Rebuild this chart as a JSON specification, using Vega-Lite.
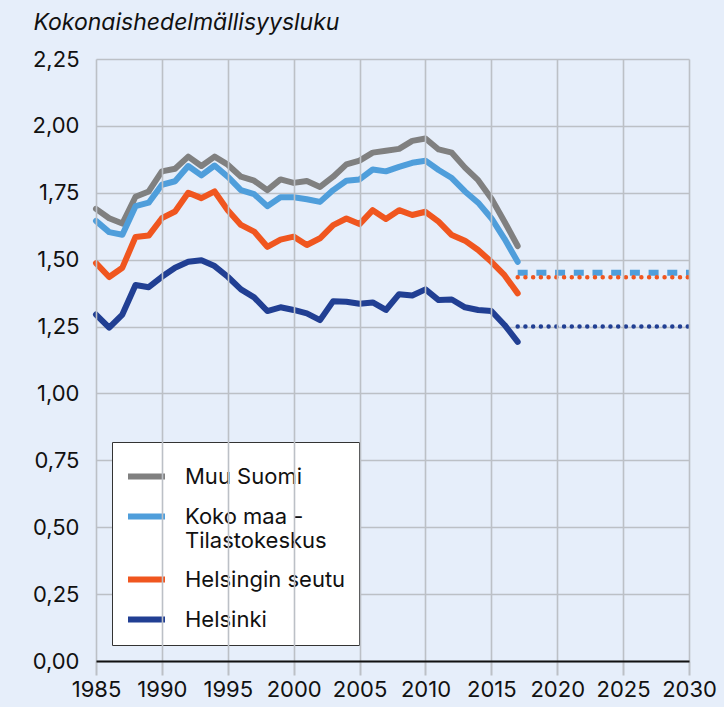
{
  "$schema": "https://vega.github.io/schema/vega-lite/v6.json",
  "width": 593,
  "height": 602,
  "autosize": {"type": "none"},
  "padding": {"left": 96, "top": 59, "right": 35, "bottom": 46},
  "background": "#e6eefa",
  "config": {
    "view": {"stroke": null},
    "font": "Inter",
    "axis": {"labelFont": "Inter", "labelFontSize": 22, "labelColor": "#111111", "gridColor": "#bcc0c6", "gridWidth": 1.6}
  },
  "datasets": {
    "hist": [
      {"series": "Muu Suomi", "year": 1985, "value": 1.69},
      {"series": "Muu Suomi", "year": 1986, "value": 1.655},
      {"series": "Muu Suomi", "year": 1987, "value": 1.635},
      {"series": "Muu Suomi", "year": 1988, "value": 1.735},
      {"series": "Muu Suomi", "year": 1989, "value": 1.755},
      {"series": "Muu Suomi", "year": 1990, "value": 1.83},
      {"series": "Muu Suomi", "year": 1991, "value": 1.84},
      {"series": "Muu Suomi", "year": 1992, "value": 1.885},
      {"series": "Muu Suomi", "year": 1993, "value": 1.85},
      {"series": "Muu Suomi", "year": 1994, "value": 1.885},
      {"series": "Muu Suomi", "year": 1995, "value": 1.855},
      {"series": "Muu Suomi", "year": 1996, "value": 1.81},
      {"series": "Muu Suomi", "year": 1997, "value": 1.795},
      {"series": "Muu Suomi", "year": 1998, "value": 1.76},
      {"series": "Muu Suomi", "year": 1999, "value": 1.8},
      {"series": "Muu Suomi", "year": 2000, "value": 1.787},
      {"series": "Muu Suomi", "year": 2001, "value": 1.794},
      {"series": "Muu Suomi", "year": 2002, "value": 1.772},
      {"series": "Muu Suomi", "year": 2003, "value": 1.81},
      {"series": "Muu Suomi", "year": 2004, "value": 1.856},
      {"series": "Muu Suomi", "year": 2005, "value": 1.87},
      {"series": "Muu Suomi", "year": 2006, "value": 1.9},
      {"series": "Muu Suomi", "year": 2007, "value": 1.907},
      {"series": "Muu Suomi", "year": 2008, "value": 1.914},
      {"series": "Muu Suomi", "year": 2009, "value": 1.944},
      {"series": "Muu Suomi", "year": 2010, "value": 1.953},
      {"series": "Muu Suomi", "year": 2011, "value": 1.912},
      {"series": "Muu Suomi", "year": 2012, "value": 1.9},
      {"series": "Muu Suomi", "year": 2013, "value": 1.844},
      {"series": "Muu Suomi", "year": 2014, "value": 1.797},
      {"series": "Muu Suomi", "year": 2015, "value": 1.729},
      {"series": "Muu Suomi", "year": 2016, "value": 1.642},
      {"series": "Muu Suomi", "year": 2017, "value": 1.551},
      {"series": "Koko maa - Tilastokeskus", "year": 1985, "value": 1.645},
      {"series": "Koko maa - Tilastokeskus", "year": 1986, "value": 1.603},
      {"series": "Koko maa - Tilastokeskus", "year": 1987, "value": 1.593},
      {"series": "Koko maa - Tilastokeskus", "year": 1988, "value": 1.7},
      {"series": "Koko maa - Tilastokeskus", "year": 1989, "value": 1.713},
      {"series": "Koko maa - Tilastokeskus", "year": 1990, "value": 1.78},
      {"series": "Koko maa - Tilastokeskus", "year": 1991, "value": 1.793},
      {"series": "Koko maa - Tilastokeskus", "year": 1992, "value": 1.85},
      {"series": "Koko maa - Tilastokeskus", "year": 1993, "value": 1.815},
      {"series": "Koko maa - Tilastokeskus", "year": 1994, "value": 1.852},
      {"series": "Koko maa - Tilastokeskus", "year": 1995, "value": 1.81},
      {"series": "Koko maa - Tilastokeskus", "year": 1996, "value": 1.76},
      {"series": "Koko maa - Tilastokeskus", "year": 1997, "value": 1.745},
      {"series": "Koko maa - Tilastokeskus", "year": 1998, "value": 1.7},
      {"series": "Koko maa - Tilastokeskus", "year": 1999, "value": 1.733},
      {"series": "Koko maa - Tilastokeskus", "year": 2000, "value": 1.733},
      {"series": "Koko maa - Tilastokeskus", "year": 2001, "value": 1.726},
      {"series": "Koko maa - Tilastokeskus", "year": 2002, "value": 1.716},
      {"series": "Koko maa - Tilastokeskus", "year": 2003, "value": 1.76},
      {"series": "Koko maa - Tilastokeskus", "year": 2004, "value": 1.795},
      {"series": "Koko maa - Tilastokeskus", "year": 2005, "value": 1.8},
      {"series": "Koko maa - Tilastokeskus", "year": 2006, "value": 1.837},
      {"series": "Koko maa - Tilastokeskus", "year": 2007, "value": 1.83},
      {"series": "Koko maa - Tilastokeskus", "year": 2008, "value": 1.847},
      {"series": "Koko maa - Tilastokeskus", "year": 2009, "value": 1.862},
      {"series": "Koko maa - Tilastokeskus", "year": 2010, "value": 1.87},
      {"series": "Koko maa - Tilastokeskus", "year": 2011, "value": 1.835},
      {"series": "Koko maa - Tilastokeskus", "year": 2012, "value": 1.805},
      {"series": "Koko maa - Tilastokeskus", "year": 2013, "value": 1.755},
      {"series": "Koko maa - Tilastokeskus", "year": 2014, "value": 1.713},
      {"series": "Koko maa - Tilastokeskus", "year": 2015, "value": 1.655},
      {"series": "Koko maa - Tilastokeskus", "year": 2016, "value": 1.578},
      {"series": "Koko maa - Tilastokeskus", "year": 2017, "value": 1.492},
      {"series": "Helsingin seutu", "year": 1985, "value": 1.487},
      {"series": "Helsingin seutu", "year": 1986, "value": 1.435},
      {"series": "Helsingin seutu", "year": 1987, "value": 1.47},
      {"series": "Helsingin seutu", "year": 1988, "value": 1.585},
      {"series": "Helsingin seutu", "year": 1989, "value": 1.59},
      {"series": "Helsingin seutu", "year": 1990, "value": 1.655},
      {"series": "Helsingin seutu", "year": 1991, "value": 1.68},
      {"series": "Helsingin seutu", "year": 1992, "value": 1.75},
      {"series": "Helsingin seutu", "year": 1993, "value": 1.73},
      {"series": "Helsingin seutu", "year": 1994, "value": 1.755},
      {"series": "Helsingin seutu", "year": 1995, "value": 1.685},
      {"series": "Helsingin seutu", "year": 1996, "value": 1.63},
      {"series": "Helsingin seutu", "year": 1997, "value": 1.605},
      {"series": "Helsingin seutu", "year": 1998, "value": 1.548},
      {"series": "Helsingin seutu", "year": 1999, "value": 1.575},
      {"series": "Helsingin seutu", "year": 2000, "value": 1.586},
      {"series": "Helsingin seutu", "year": 2001, "value": 1.555},
      {"series": "Helsingin seutu", "year": 2002, "value": 1.58},
      {"series": "Helsingin seutu", "year": 2003, "value": 1.629},
      {"series": "Helsingin seutu", "year": 2004, "value": 1.654},
      {"series": "Helsingin seutu", "year": 2005, "value": 1.633},
      {"series": "Helsingin seutu", "year": 2006, "value": 1.685},
      {"series": "Helsingin seutu", "year": 2007, "value": 1.652},
      {"series": "Helsingin seutu", "year": 2008, "value": 1.685},
      {"series": "Helsingin seutu", "year": 2009, "value": 1.667},
      {"series": "Helsingin seutu", "year": 2010, "value": 1.679},
      {"series": "Helsingin seutu", "year": 2011, "value": 1.642},
      {"series": "Helsingin seutu", "year": 2012, "value": 1.592},
      {"series": "Helsingin seutu", "year": 2013, "value": 1.571},
      {"series": "Helsingin seutu", "year": 2014, "value": 1.536},
      {"series": "Helsingin seutu", "year": 2015, "value": 1.492},
      {"series": "Helsingin seutu", "year": 2016, "value": 1.442},
      {"series": "Helsingin seutu", "year": 2017, "value": 1.374},
      {"series": "Helsinki", "year": 1985, "value": 1.295},
      {"series": "Helsinki", "year": 1986, "value": 1.246},
      {"series": "Helsinki", "year": 1987, "value": 1.295},
      {"series": "Helsinki", "year": 1988, "value": 1.405},
      {"series": "Helsinki", "year": 1989, "value": 1.397},
      {"series": "Helsinki", "year": 1990, "value": 1.436},
      {"series": "Helsinki", "year": 1991, "value": 1.47},
      {"series": "Helsinki", "year": 1992, "value": 1.492},
      {"series": "Helsinki", "year": 1993, "value": 1.498},
      {"series": "Helsinki", "year": 1994, "value": 1.476},
      {"series": "Helsinki", "year": 1995, "value": 1.436},
      {"series": "Helsinki", "year": 1996, "value": 1.389},
      {"series": "Helsinki", "year": 1997, "value": 1.359},
      {"series": "Helsinki", "year": 1998, "value": 1.308},
      {"series": "Helsinki", "year": 1999, "value": 1.322},
      {"series": "Helsinki", "year": 2000, "value": 1.312},
      {"series": "Helsinki", "year": 2001, "value": 1.299},
      {"series": "Helsinki", "year": 2002, "value": 1.274},
      {"series": "Helsinki", "year": 2003, "value": 1.345},
      {"series": "Helsinki", "year": 2004, "value": 1.343},
      {"series": "Helsinki", "year": 2005, "value": 1.335},
      {"series": "Helsinki", "year": 2006, "value": 1.34},
      {"series": "Helsinki", "year": 2007, "value": 1.312},
      {"series": "Helsinki", "year": 2008, "value": 1.371},
      {"series": "Helsinki", "year": 2009, "value": 1.366},
      {"series": "Helsinki", "year": 2010, "value": 1.389},
      {"series": "Helsinki", "year": 2011, "value": 1.349},
      {"series": "Helsinki", "year": 2012, "value": 1.351},
      {"series": "Helsinki", "year": 2013, "value": 1.322},
      {"series": "Helsinki", "year": 2014, "value": 1.312},
      {"series": "Helsinki", "year": 2015, "value": 1.308},
      {"series": "Helsinki", "year": 2016, "value": 1.256},
      {"series": "Helsinki", "year": 2017, "value": 1.193}
    ],
    "proj": [
      {"series": "Koko maa - Tilastokeskus", "year": 2017, "value": 1.451},
      {"series": "Koko maa - Tilastokeskus", "year": 2030, "value": 1.451},
      {"series": "Helsingin seutu", "year": 2017, "value": 1.434},
      {"series": "Helsingin seutu", "year": 2030, "value": 1.434},
      {"series": "Helsinki", "year": 2017, "value": 1.25},
      {"series": "Helsinki", "year": 2030, "value": 1.25}
    ]
  },
  "layer": [
    {
      "data": {"name": "hist"},
      "mark": {"type": "line", "strokeCap": "round", "strokeJoin": "round"},
      "encoding": {
        "x": {
          "field": "year", "type": "quantitative",
          "scale": {"domain": [1985, 2030], "nice": false, "zero": false},
          "axis": {
            "title": null,
            "values": [1985, 1990, 1995, 2000, 2005, 2010, 2015, 2020, 2025, 2030],
            "format": "d",
            "domainColor": "#111111", "domainWidth": 2,
            "tickColor": "#bcc0c6", "tickWidth": 2, "tickSize": 14,
            "labelPadding": 4, "labelFlush": false,
            "zindex": 1
          }
        },
        "y": {
          "field": "value", "type": "quantitative",
          "scale": {"domain": [0, 2.25], "nice": false},
          "axis": {
            "values": [0, 0.25, 0.5, 0.75, 1, 1.25, 1.5, 1.75, 2, 2.25],
            "labelExpr": "replace(format(datum.value, '.2f'), '.', ',')",
            "domain": false, "ticks": false, "labelPadding": 17,
            "title": "Kokonaishedelmällisyysluku",
            "titleAngle": 0, "titleX": -63, "titleY": -30,
            "titleAlign": "left", "titleBaseline": "alphabetic",
            "titleFont": "Inter", "titleFontSize": 23, "titleFontStyle": "italic",
            "titleFontWeight": "normal", "titleColor": "#111111"
          }
        },
        "color": {
          "field": "series", "type": "nominal",
          "scale": {
            "domain": ["Muu Suomi", "Koko maa - Tilastokeskus", "Helsingin seutu", "Helsinki"],
            "range": ["#808080", "#4f9edb", "#f0561f", "#213f93"]
          },
          "legend": {
            "orient": "none", "legendX": 16, "legendY": 383,
            "title": null,
            "fillColor": "#ffffff", "strokeColor": "#333333",
            "padding": 13,
            "symbolType": "stroke", "symbolSize": 1369,
            "labelFont": "Inter", "labelFontSize": 22, "labelColor": "#111111",
            "labelOffset": 17, "rowPadding": 6, "labelLimit": 300,
            "labelExpr": "datum.label === 'Koko maa - Tilastokeskus' ? ['Koko maa -', 'Tilastokeskus'] : datum.label"
          }
        },
        "strokeWidth": {
          "field": "series", "type": "nominal",
          "scale": {
            "domain": ["Muu Suomi", "Koko maa - Tilastokeskus", "Helsingin seutu", "Helsinki"],
            "range": [6, 6, 4.5, 4.5]
          },
          "legend": {
            "orient": "none", "legendX": 16, "legendY": 383,
            "title": null,
            "fillColor": "#ffffff", "strokeColor": "#333333",
            "padding": 13,
            "symbolType": "stroke", "symbolSize": 1369,
            "labelFont": "Inter", "labelFontSize": 22, "labelColor": "#111111",
            "labelOffset": 17, "rowPadding": 6, "labelLimit": 300,
            "labelExpr": "datum.label === 'Koko maa - Tilastokeskus' ? ['Koko maa -', 'Tilastokeskus'] : datum.label"
          }
        }
      }
    },
    {
      "data": {"name": "proj"},
      "transform": [{"filter": "datum.series === 'Koko maa - Tilastokeskus'"}],
      "mark": {"type": "line", "strokeDash": [10, 8.7], "strokeWidth": 6, "strokeCap": "butt", "color": "#4f9edb"},
      "encoding": {
        "x": {"field": "year", "type": "quantitative"},
        "y": {"field": "value", "type": "quantitative"}
      }
    },
    {
      "data": {"name": "proj"},
      "transform": [{"filter": "datum.series === 'Helsingin seutu'"}],
      "mark": {"type": "line", "strokeDash": [0, 7.73], "strokeWidth": 4.5, "strokeCap": "round", "color": "#f0561f"},
      "encoding": {
        "x": {"field": "year", "type": "quantitative"},
        "y": {"field": "value", "type": "quantitative"}
      }
    },
    {
      "data": {"name": "proj"},
      "transform": [{"filter": "datum.series === 'Helsinki'"}],
      "mark": {"type": "line", "strokeDash": [0, 7.73], "strokeWidth": 4.5, "strokeCap": "round", "color": "#213f93"},
      "encoding": {
        "x": {"field": "year", "type": "quantitative"},
        "y": {"field": "value", "type": "quantitative"}
      }
    }
  ]
}
